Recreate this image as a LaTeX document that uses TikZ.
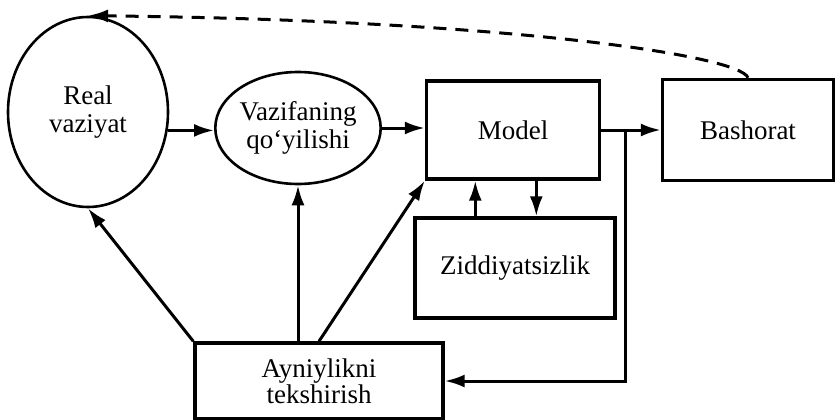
\documentclass[tikz,border=0pt]{standalone}
\usepackage{fontspec}
\setmainfont{Liberation Serif}
\usepackage{tikz}
\usetikzlibrary{shapes.geometric,arrows.meta}

\begin{document}
\begin{tikzpicture}[
  x=1pt, y=-1pt,
  oval/.style  = {draw, ellipse, line width=2.6pt, inner sep=0pt,
                  align=center, font=\fontsize{27}{28}\selectfont},
  box/.style   = {draw, rectangle, line width=3.4pt, inner sep=0pt,
                  align=center, font=\fontsize{27}{26}\selectfont},
  arr/.style   = {-{Latex[length=20pt, width=13pt]}, line width=3pt},
  darr/.style  = {arr, dash pattern=on 13pt off 9pt},
]
\useasboundingbox (0,0) rectangle (835,420);

%% ─── nodes ────────────────────────────────────────────────────────────────
\node[oval, minimum width=160pt, minimum height=190pt] (real) at (88,112)
  {Real\\vaziyat};
\node[oval, minimum width=160pt, minimum height=112pt] (vaz) at (298,128)
  {Vazifaning\\qo‘yilishi};
\node[box, minimum width=173pt, minimum height=98pt] (model) at (513,130)
  {Model};
\node[box, minimum width=171pt, minimum height=101pt] (bash) at (748,130)
  {Bashorat};
\node[box, minimum width=200pt, minimum height=100pt] (zidd) at (515,268)
  {Ziddiyatsizlik};
\node[box, minimum width=248pt, minimum height=76pt] (ayn) at (319,381)
  {Ayniylikni\\tekshirish};

%% ─── main flow arrows ─────────────────────────────────────────────────────
\draw[arr] (real.-13) -- (real.-13 -| vaz.west);
\draw[arr] (vaz.east) -- (vaz.east -| model.west);
\draw[arr] (model.east) -- (bash.west);

%% branch from Model output back to the check box
\path (model.east) ++(24,0) coordinate (br);
\draw[arr] (br) -- (br |- ayn.east) -- (ayn.east);

%% Model <-> Ziddiyatsizlik
\path (zidd.north west) ++(62,0) coordinate (zup);
\path (zidd.north west) ++(123,0) coordinate (zdn);
\draw[arr] (zup) -- (zup |- model.south);
\draw[arr] (zdn |- model.south) -- (zdn);

%% from the check box upwards
\draw[arr] (ayn.north west) -- (real.south);
\draw[arr] (ayn.north -| vaz.south) -- (vaz.south);
\draw[arr] (ayn.north) -- (model.south west);

%% ─── feedback from forecast to reality (dashed) ───────────────────────────
\draw[darr] (bash.north) .. controls (740,55) and (500,20) .. (real.north);

\end{tikzpicture}
\end{document}
